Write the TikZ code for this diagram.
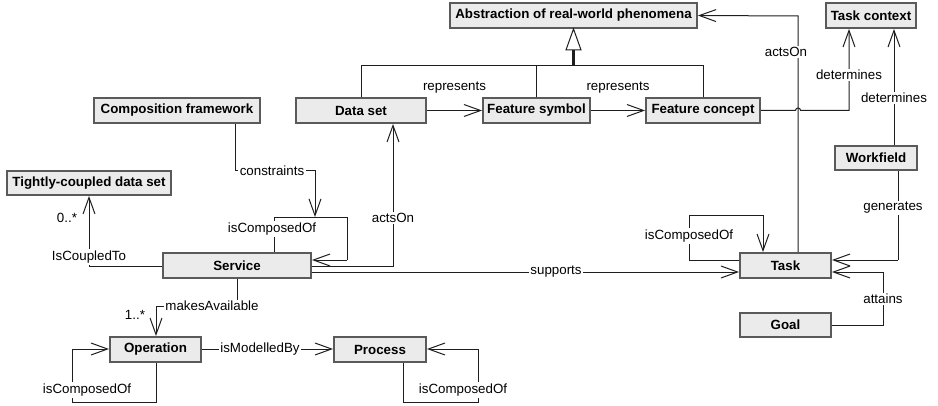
\documentclass[tikz,border=0pt]{standalone}
\usepackage{fontspec}
\setmainfont{Liberation Sans}
\usetikzlibrary{arrows.meta}
\definecolor{boxfill}{HTML}{EBEBEB}
\definecolor{boxline}{HTML}{5A5A5A}
\definecolor{wire}{HTML}{1E1E1E}
\tikzset{
  cls/.style={draw=boxline, fill=boxfill, line width=1.4pt, inner sep=0pt,
    font=\fontsize{10}{12}\selectfont\bfseries, text=black},
  bw/.style={minimum width=#1*0.75pt},
  bh/.style={minimum height=#1*0.75pt},
  wire/.style={draw=wire, line width=0.75pt},
  arr/.style={wire, -{Straight Barb[length=12.5pt, width=9pt, line width=0.75pt]}},
  lbl/.style={fill=white, inner sep=1pt, font=\fontsize{10}{12}\selectfont, text=black},
  txt/.style={inner sep=1pt, font=\fontsize{10}{12}\selectfont, text=black},
}
\begin{document}
\begin{tikzpicture}[x=0.75pt, y=-0.75pt]
\useasboundingbox (0,0) rectangle (938,406);

% classes
\node[cls, bw=247, bh=25] (abs)  at (573.5,15.5) {Abstraction of real-world phenomena};
\node[cls, bw=90,  bh=25] (tc)   at (871,15.5)   {Task context};
\node[cls, bw=166, bh=25] (cf)   at (177,110.5)  {Composition framework};
\node[cls, bw=130, bh=25] (ds)   at (361,110.5)  {Data set};
\node[cls, bw=107, bh=25] (fs)   at (536.5,110.5) {Feature symbol};
\node[cls, bw=114, bh=25] (fc)   at (703,110.5)  {Feature concept};
\node[cls, bw=164, bh=24] (tcd)  at (89,183)     {Tightly-coupled data set};
\node[cls, bw=82,  bh=24] (wf)   at (876,158)    {Workfield};
\node[cls, bw=148, bh=25] (svc)  at (237,265.5)  {Service};
\node[cls, bw=91,  bh=25] (task) at (785.5,265.5) {Task};
\node[cls, bw=91,  bh=24] (goal) at (785.5,325)  {Goal};
\node[cls, bw=91,  bh=25] (op)   at (155.5,349.5) {Operation};
\node[cls, bw=92,  bh=25] (proc) at (380,349.5)  {Process};

% generalisation towards the abstraction
\draw[wire] (ds.north) -- (ds.north |- 0,66) -- (fc.north |- 0,66) -- (fc.north);
\draw[wire] (fs.north) -- (fs.north |- 0,66);
\draw[draw=wire, line width=1.8pt] (abs.south |- 0,66) -- (abs.south |- 0,49);
\draw[wire, fill=white, line join=miter] (abs.south) -- ++(-7.5,21) -- ++(15,0) -- cycle;

% represents
\draw[arr] (ds.east) -- node[txt, midway, yshift=17.5pt] (r1) {represents} (fs.west);
\draw[arr] (fs.east) -- node[txt, midway, yshift=17.5pt] (r2) {represents} (fc.west);

% determines (feature concept -> task context), hopping over actsOn
\draw[arr] (fc.east) -- (795.5,110.5) arc[start angle=180, end angle=0, radius=1.9pt]
  -- (849,110.5) -- (tc.south -| 849,0);
\node[lbl] (d1) at (849,75) {determines};

% determines (workfield -> task context)
\draw[arr] (wf.north -| 894,0) -- (tc.south -| 894,0);
\node[lbl] (d2) at (894,98) {determines};

% actsOn (task -> abstraction)
\draw[arr] (task.north -| 798,0) -- (798,16) -- (abs.east);
\node[lbl] (a1) at (786,52) {actsOn};

% constraints and service composition
\draw[wire] (svc.north -| 274,0) -- (274,217) -- (347,217) -- (347,260);
\draw[arr] (347,260) -- (svc.east |- 0,260);
\draw[arr] (cf.south -| 235,0) -- (235,171) -- (315,171) -- (315,217);
\node[lbl] (c1) at (272,171) {constraints};
\node[lbl] (sc) at (272,229) {isComposedOf};

% actsOn (service -> data set)
\draw[arr] (svc.east |- 0,266) -- (393,266) -- (ds.south -| 393,0);
\node[lbl] (a2) at (393,218) {actsOn};

% supports
\draw[arr] (svc.east |- 0,272) -- (task.west |- 0,272);
\node[lbl] (sp) at (556,272) {supports};

% IsCoupledTo
\draw[arr] (svc.west |- 0,266) -- (89,266) -- (tcd.south);
\node[lbl] (ic) at (89,257) {IsCoupledTo};
\node[txt] (m1) at (67,218) {0..*};

% makesAvailable
\draw[arr] (svc.south) -- (237,306) -- (156,306) -- (op.north -| 156,0);
\node[lbl] (ma) at (212,306) {makesAvailable};
\node[txt] (m2) at (135,315) {1..*};

% operation composition
\draw[wire] (op.south -| 156,0) -- (156,402) -- (72,402) -- (72,349);
\draw[arr] (72,349) -- (op.west |- 0,349);
\node[lbl] (oc) at (87,390) {isComposedOf};

% isModelledBy
\draw[arr] (op.east |- 0,349) -- (proc.west |- 0,349);
\node[lbl] (mb) at (260,349) {isModelledBy};

% process composition
\draw[wire] (proc.south -| 403,0) -- (403,402) -- (478,402) -- (478,349);
\draw[arr] (478,349) -- (proc.east |- 0,349);
\node[lbl] (pc) at (463,390) {isComposedOf};

% task composition
\draw[wire] (task.west |- 0,260) -- (689,260) -- (689,215) -- (763,215);
\draw[arr] (763,215) -- (task.north -| 763,0);
\node[lbl] (tk) at (689,236) {isComposedOf};

% generates
\draw[wire] (wf.south -| 898,0) -- (898,260);
\draw[arr] (898,260) -- (task.east |- 0,260);
\node[lbl] (g1) at (893,208) {generates};

% attains
\draw[wire] (goal.east) -- (883,325) -- (883,272);
\draw[arr] (883,272) -- (task.east |- 0,272);
\node[lbl] (at) at (883,299) {attains};
\end{tikzpicture}
\end{document}
